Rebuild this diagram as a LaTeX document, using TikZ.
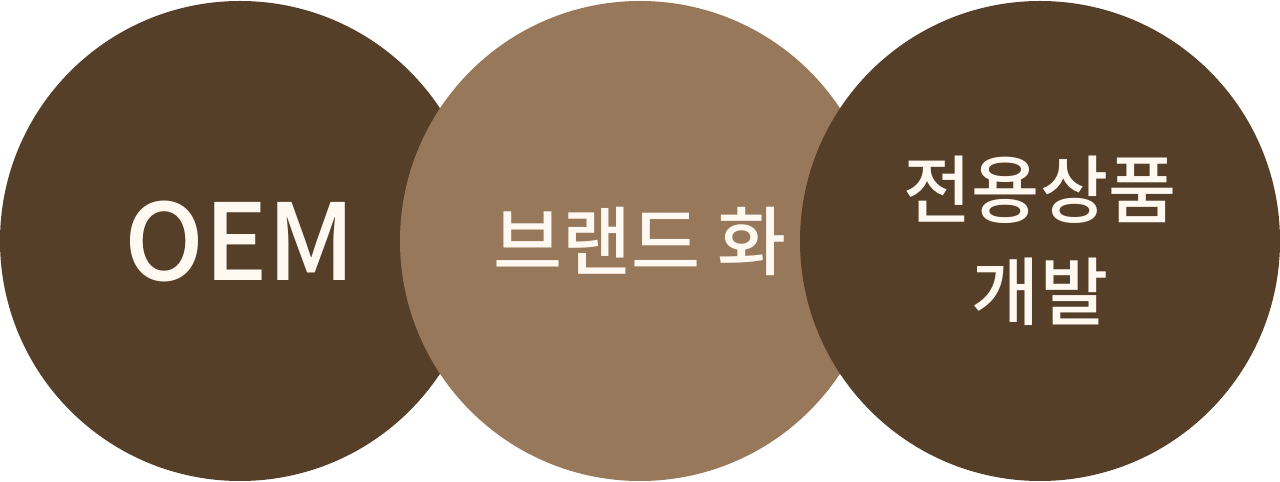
\documentclass[tikz,border=0pt]{standalone}
\usepackage{fontspec}
\setmainfont{Noto Sans CJK KR}[UprightFont=* Medium]
\definecolor{darkbrown}{HTML}{563F29}
\definecolor{lightbrown}{HTML}{98785A}
\definecolor{cream}{HTML}{FFF9F2}
\begin{document}
\begin{tikzpicture}[x=0.5pt, y=0.5pt, every node/.style={circle, minimum size=240pt, inner sep=0pt, text=cream, align=center}]
      \useasboundingbox (0,0) rectangle (1280,482);

      \node[fill=darkbrown, font=\fontsize{53pt}{60pt}\selectfont] (oem) at (240,241) {OEM};
      \node[fill=lightbrown, font=\fontsize{37.5pt}{50pt}\selectfont] (brand) at (640,241) {브랜드 화};
      \node[fill=darkbrown, font=\fontsize{37pt}{51pt}\selectfont] (dev) at (1040,241) {전용상품\\개발};

    \end{tikzpicture}
\end{document}
